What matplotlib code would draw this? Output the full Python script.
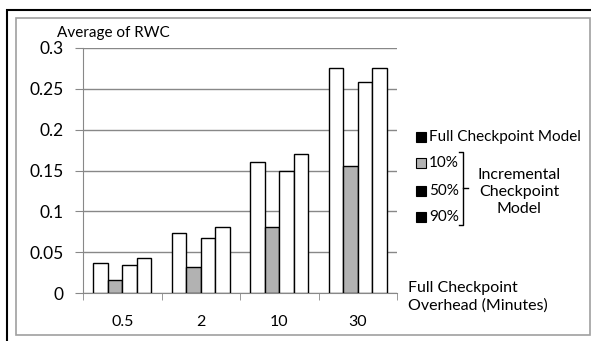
import matplotlib
matplotlib.use("Agg")
import matplotlib.pyplot as plt
from matplotlib.patches import Rectangle
from matplotlib.lines import Line2D

plt.rcParams['font.family'] = ['Lato', 'DejaVu Sans']

# data
overheads = ['0.5', '2', '10', '30']
full_model = [0.037, 0.073, 0.161, 0.275]
inc_10 = [0.016, 0.032, 0.081, 0.156]
inc_50 = [0.034, 0.067, 0.150, 0.258]
inc_90 = [0.043, 0.081, 0.170, 0.275]
series = [full_model, inc_10, inc_50, inc_90]
fills = ['white', '#b2b2b2', 'white', 'white']
y_ticks = [0, 0.05, 0.1, 0.15, 0.2, 0.25, 0.3]
y_tick_labels = ['0', '0.05', '0.1', '0.15', '0.2', '0.25', '0.3']

W, H = 591, 341
fig = plt.figure(figsize=(W / 100, H / 100), dpi=100)


def fx(px):
    return px / W


def fy(py):
    return 1 - py / H


# borders around the chart
fig.add_artist(Rectangle((fx(7), fy(345)), fx(600) - fx(7), fy(10) - fy(345),
                         transform=fig.transFigure, fill=False, ec='black', lw=1.5))
fig.add_artist(Rectangle((fx(16), fy(335)), fx(590) - fx(16), fy(18) - fy(335),
                         transform=fig.transFigure, fill=False, ec='#a0a0a0', lw=1.2))

ax = fig.add_axes([fx(83), fy(293), fx(397) - fx(83), fy(48) - fy(293)])

bw = 0.186
for k, vals in enumerate(series):
    xs = [i - 2 * bw + bw / 2 + k * bw for i in range(len(overheads))]
    ax.bar(xs, vals, width=bw, color=fills[k], edgecolor='black', linewidth=1, zorder=3)

ax.set_xlim(-0.5, 3.5)
ax.set_ylim(0, 0.3)
ax.set_yticks(y_ticks)
ax.set_yticklabels(y_tick_labels, fontsize=12.5)
ax.set_xticks(range(len(overheads)))
ax.set_xticklabels(overheads, fontsize=11.5)
ax.set_xticks([-0.5, 0.5, 1.5, 2.5, 3.5], minor=True)
ax.tick_params(axis='x', which='major', length=0, pad=16)
ax.tick_params(axis='x', which='minor', length=5, color='#888888')
ax.tick_params(axis='y', length=6, color='#888888', pad=8)
ax.yaxis.grid(True, color='#888888', lw=1, zorder=0)
for s in ['top', 'right']:
    ax.spines[s].set_visible(False)
for s in ['left', 'bottom']:
    ax.spines[s].set_color('#888888')

fig.text(fx(57), fy(33), 'Average of RWC', fontsize=11, va='center', ha='left')

# hand-made legend
legend_rows = [('Full Checkpoint Model', 'black', 137),
               ('10%', '#b2b2b2', 163),
               ('50%', 'black', 191),
               ('90%', 'black', 217)]
for label, col, py in legend_rows:
    fig.add_artist(Rectangle((fx(416), fy(py + 5)), fx(10), fy(0) - fy(10),
                             transform=fig.transFigure, fc=col, ec='black', lw=0.8))
    fig.text(fx(429), fy(py), label, fontsize=11, va='center', ha='left')

# bracket for incremental models
bx = fx(463)
fig.add_artist(Line2D([fx(459), bx, bx, fx(459)], [fy(152), fy(152), fy(225), fy(225)],
                      transform=fig.transFigure, color='black', lw=1))
fig.add_artist(Line2D([bx, fx(468)], [fy(188), fy(188)],
                      transform=fig.transFigure, color='black', lw=1))
fig.text(fx(519), fy(192), 'Incremental\nCheckpoint\nModel', fontsize=11.5,
         ha='center', va='center', linespacing=1.25)

fig.text(fx(408), fy(297), 'Full Checkpoint\nOverhead (Minutes)', fontsize=11.5,
         ha='left', va='center', linespacing=1.35)

fig.savefig('out.png', dpi=100)
